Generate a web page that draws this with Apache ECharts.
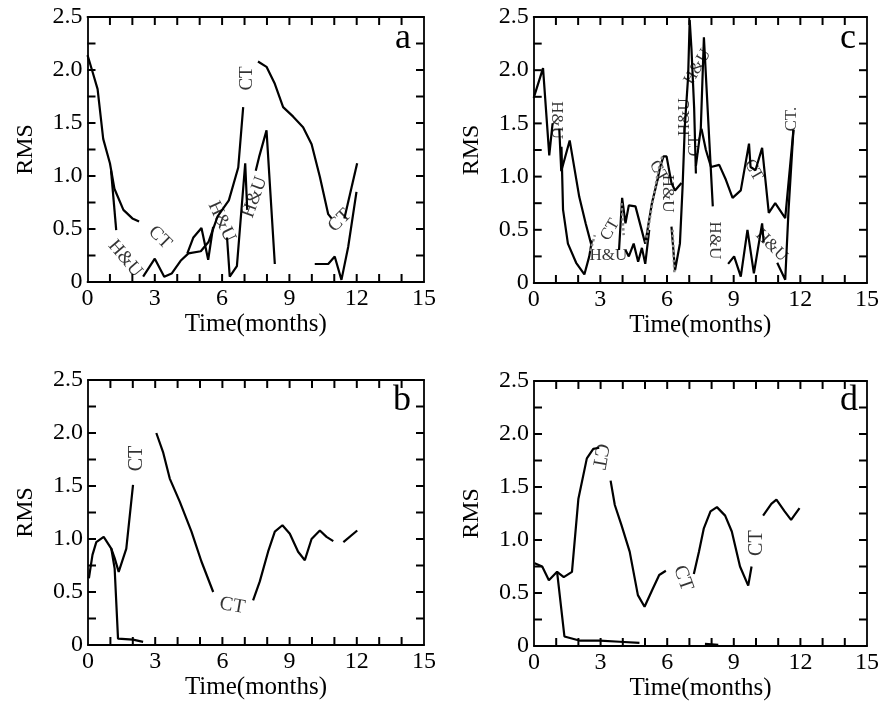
<!DOCTYPE html>
<html><head><meta charset="utf-8">
<script src="https://cdn.jsdelivr.net/npm/echarts@6/dist/echarts.min.js"></script>
<style>html,body{margin:0;padding:0;background:#fff}#c{width:882px;height:704px}</style>
</head><body><div id="c"></div>
<script>
// ---------- data ----------
const xTickLabels = [0, 3, 6, 9, 12, 15];
const yTickLabels = ['0', '0.5', '1.0', '1.5', '2.0', '2.5'];
const xTickMarks = [1,2,3,4,5,6,7,8,9,10,11,12,13,14];
const yTickMarks = [0.25,0.5,0.75,1.0,1.25,1.5,1.75,2.0,2.25];
const panelLetters = ['a', 'c', 'b', 'd'];

// panel a
const a_ct1 = [[0,2.14],[0.2,2.0],[0.45,1.82],[0.7,1.35],[1.0,1.12],[1.2,0.88],[1.6,0.68],[2.0,0.6],[2.3,0.57]];
const a_hu1 = [[1.05,1.05],[1.28,0.49]];
const a_ct2 = [[2.48,0.05],[3.0,0.22],[3.42,0.05],[3.75,0.08],[4.15,0.2],[4.5,0.27],[5.05,0.29],[5.4,0.38],[5.8,0.62],[6.3,0.77],[6.72,1.08],[6.94,1.65]];
const a_hu2 = [[4.45,0.27],[4.72,0.42],[5.08,0.51],[5.38,0.21],[5.6,0.52]];
const a_hu3 = [[6.22,0.42],[6.34,0.05],[6.66,0.15],[7.03,1.12],[7.12,0.68]];
const a_hu4 = [[7.5,1.05],[7.65,1.18],[7.98,1.43],[8.35,0.17]];
const a_ct3 = [[7.6,2.08],[7.98,2.03],[8.35,1.87],[8.72,1.65],[9.17,1.56],[9.61,1.46],[9.99,1.3],[10.36,0.99],[10.73,0.64],[10.88,0.6]];
const a_ct4 = [[11.45,0.6],[12.02,1.12]];
const a_hu5 = [[10.13,0.17],[10.73,0.17],[11.02,0.24],[11.32,0.02],[11.62,0.33],[11.99,0.85]];

// panel c
const c_1 = [[0,1.74],[0.42,2.02],[0.7,1.2],[0.85,1.5]];
const c_2 = [[1.15,1.45],[1.24,1.05],[1.62,1.34],[2.05,0.81],[2.34,0.56],[2.58,0.37]];
const c_3 = [[1.25,1.28],[1.32,0.69],[1.54,0.37],[1.91,0.19],[2.28,0.08],[2.5,0.25],[2.62,0.4]];
const c_4 = [[3.84,0.31],[3.98,0.8],[4.13,0.56],[4.28,0.73],[4.58,0.72],[5.02,0.37],[5.32,0.75],[5.54,0.94],[5.69,1.09],[5.84,1.19],[5.98,1.19],[6.2,0.94],[6.36,0.87],[6.65,0.94]];
const c_5 = [[4.13,0.31],[4.28,0.25],[4.5,0.37],[4.7,0.2],[4.87,0.33],[5.02,0.18],[5.2,0.5]];
const c_6 = [[6.2,0.53],[6.36,0.12],[6.58,0.37],[6.7,0.9],[6.8,1.47],[6.95,1.94],[7.02,2.47],[7.1,2.2],[7.22,1.65],[7.3,1.03]];
const c_7 = [[7.3,1.1],[7.52,1.45],[7.66,2.31],[7.91,1.31],[8.06,0.72]];
const c_8 = [[7.55,1.45],[7.75,1.25],[7.98,1.09],[8.35,1.11],[8.65,0.97],[8.95,0.8],[9.32,0.87],[9.69,1.31],[9.76,1.09],[9.98,1.06],[10.28,1.27],[10.58,0.66],[10.87,0.75],[11.32,0.61],[11.69,1.44]];
const c_9 = [[8.75,0.18],[9.02,0.25],[9.32,0.06],[9.62,0.5],[9.91,0.09],[10.28,0.56],[10.35,0.38]];
const c_10 = [[10.96,0.19],[11.32,0.03],[11.47,0.69],[11.69,1.44]];
const c_g1 = [[5.05,0.38],[5.3,0.7],[5.6,1.05],[5.8,1.2]];
const c_g2 = [[2.55,0.3],[2.75,0.45]];
const c_g3 = [[6.25,0.5],[6.33,0.1]];
const c_g4 = [[3.95,0.75],[4.05,0.45]];

// panel b
const b_1 = [[0.04,0.63],[0.2,0.85],[0.37,0.97],[0.7,1.02],[1.04,0.91],[1.19,0.82],[1.37,0.69],[1.71,0.91],[2.01,1.51]];
const b_2 = [[1.04,0.91],[1.19,0.72],[1.34,0.06],[2.01,0.05],[2.46,0.03]];
const b_3 = [[3.05,2.0],[3.35,1.82],[3.65,1.57],[4.1,1.35],[4.62,1.07],[5.06,0.79],[5.59,0.5]];
const b_4 = [[7.37,0.42],[7.67,0.6],[8.04,0.88],[8.34,1.07],[8.68,1.13],[9.01,1.05],[9.38,0.88],[9.68,0.8],[9.98,1.0],[10.35,1.08],[10.65,1.02],[10.95,0.98]];
const b_5 = [[11.4,0.97],[12.02,1.08]];

// panel d
const d_1 = [[0.03,0.78],[0.37,0.75],[0.67,0.62],[1.04,0.7],[1.34,0.65],[1.71,0.7],[2.0,1.39],[2.38,1.77],[2.67,1.86],[2.94,1.87]];
const d_2 = [[1.04,0.7],[1.37,0.09],[2.08,0.05],[2.97,0.05],[3.86,0.04],[4.75,0.03]];
const d_3 = [[3.45,1.56],[3.64,1.33],[3.94,1.14],[4.31,0.89],[4.68,0.48],[4.98,0.37],[5.35,0.54],[5.64,0.67],[5.94,0.71]];
const d_4 = [[7.2,0.68],[7.43,0.89],[7.65,1.11],[7.95,1.27],[8.24,1.31],[8.61,1.23],[8.91,1.08],[9.28,0.75],[9.65,0.57],[9.8,0.75]];
const d_5 = [[10.32,1.23],[10.69,1.34],[10.92,1.38],[11.29,1.27],[11.58,1.19],[11.96,1.3]];
const d_6 = [[7.7,0.02],[8.3,0.01]];

// annotations: [x, y, text]
const a_notes = [[1.68,0.22,'H&U'],[3.23,0.42,'CT'],[5.98,0.57,'H&U'],[7.46,0.8,'H&U'],[7.12,1.92,'CT'],[11.25,0.58,'CT']];
const c_notes = [[1.02,1.53,'H&U'],[3.36,0.26,'H&U'],[3.44,0.5,'CT'],[6.0,0.84,'H&U'],[5.62,1.05,'CT'],[6.77,1.56,'H&U'],[7.25,1.29,'CT'],[7.37,2.03,'H&U'],[8.15,0.4,'H&U'],[9.89,1.06,'CT'],[10.7,0.35,'H&U'],[11.59,1.54,'CT.']];
const b_notes = [[2.19,1.76,'CT'],[6.44,0.37,'CT']];
const d_notes = [[2.97,1.79,'CT'],[6.71,0.64,'CT'],[10.02,0.97,'CT']];
</script>
<script>
// ---------- layout / style ----------
const FONT = 'Liberation Serif';
const X_MIN = 0, X_MAX = 15, Y_MIN = 0, Y_MAX = 2.5;
const TICK_LEN = 8;
const panels = [
  {left:87.5, top:17, width:336.5, height:265, letterX:395, letterY:21},
  {left:533.7, top:17, width:337.3, height:266, letterX:840, letterY:21},
  {left:88, top:380, width:336, height:265, letterX:393, letterY:383},
  {left:534, top:381, width:337, height:265, letterX:840, letterY:383}
];
const lineSets = [
  [a_ct1,a_hu1,a_ct2,a_hu2,a_hu3,a_hu4,a_ct3,a_ct4,a_hu5],
  [c_1,c_2,c_3,c_4,c_5,c_6,c_7,c_8,c_9,c_10],
  [b_1,b_2,b_3,b_4,b_5],
  [d_1,d_2,d_3,d_4,d_5,d_6]
];
const greySets = [[],[c_g1,c_g2,c_g3,c_g4],[],[]];
const noteSets = [a_notes, c_notes, b_notes, d_notes];
const noteRot = [
  [-50,-45,-65,70,90,45],
  [-90,0,60,-90,-60,90,90,60,-90,-60,-45,90],
  [90,-10],
  [-100,-70,90]
];
const noteSize = [19, 17, 20, 20];

// tick mark items: [x, y, direction]  0=up from bottom, 1=down from top, 2=right from left, 3=left from right
const tickItems = [];
xTickMarks.forEach(v => { tickItems.push([v, Y_MIN, 0]); tickItems.push([v, Y_MAX, 1]); });
yTickMarks.forEach(v => { tickItems.push([X_MIN, v, 2]); tickItems.push([X_MAX, v, 3]); });
const dirs = [[0,-1],[0,1],[1,0],[-1,0]];

const mkLine = () => ({show:true, onZero:false, lineStyle:{color:'#000', width:1.8}});

const grid = [], xAxis = [], yAxis = [], series = [], title = [];
panels.forEach((p, i) => {
  grid.push({left:p.left, top:p.top, width:p.width, height:p.height});
  ['bottom','top'].forEach((pos, j) => {
    const ax = {type:'value', gridIndex:i, position:pos, min:X_MIN, max:X_MAX, interval:3,
      axisLine:mkLine(), axisTick:{show:false}, minorTick:{show:false},
      splitLine:{show:false}, axisLabel:{show:false}};
    if (j === 0) {
      ax.axisLabel = {show:true, color:'#000', fontFamily:FONT, fontSize:24, margin:5,
        formatter: v => xTickLabels.includes(v) ? String(v) : ''};
      ax.name = 'Time(months)'; ax.nameLocation = 'middle'; ax.nameGap = 29;
      ax.nameTextStyle = {color:'#000', fontFamily:FONT, fontSize:25};
    }
    xAxis.push(ax);
  });
  ['left','right'].forEach((pos, j) => {
    const ax = {type:'value', gridIndex:i, position:pos, min:Y_MIN, max:Y_MAX, interval:0.5,
      axisLine:mkLine(), axisTick:{show:false}, minorTick:{show:false},
      splitLine:{show:false}, axisLabel:{show:false}};
    if (j === 0) {
      ax.axisLabel = {show:true, color:'#000', fontFamily:FONT, fontSize:24, margin:5,
        formatter: v => yTickLabels[Math.round(v/0.5)]};
      ax.name = 'RMS'; ax.nameLocation = 'middle'; ax.nameGap = 50; ax.nameRotate = 90;
      ax.nameTextStyle = {color:'#000', fontFamily:FONT, fontSize:24};
    }
    yAxis.push(ax);
  });
  // inward tick marks on all four sides, placed through the axis scales
  series.push({type:'custom', xAxisIndex:2*i, yAxisIndex:2*i, data:tickItems, clip:false, silent:true,
    animation:false, z:5,
    renderItem: (params, api) => {
      const pt = api.coord([api.value(0), api.value(1)]);
      const d = dirs[api.value(2)];
      return {type:'line', shape:{x1:pt[0], y1:pt[1], x2:pt[0]+d[0]*TICK_LEN, y2:pt[1]+d[1]*TICK_LEN},
        style:{stroke:'#000', lineWidth:2}};
    }});
  lineSets[i].forEach(d => series.push({type:'line', xAxisIndex:2*i, yAxisIndex:2*i, data:d,
    showSymbol:false, symbol:'none', lineStyle:{color:'#000', width:2.2}, silent:true, animation:false}));
  greySets[i].forEach(d => series.push({type:'line', xAxisIndex:2*i, yAxisIndex:2*i, data:d,
    showSymbol:false, symbol:'none', lineStyle:{color:'#888', width:2.5, type:'dotted'}, silent:true, animation:false}));
  series.push({type:'scatter', xAxisIndex:2*i, yAxisIndex:2*i, symbolSize:0, animation:false, silent:true,
    data: noteSets[i].map((n, k) => ({value:[n[0], n[1]], name:n[2],
      label:{rotate: noteRot[i][k]}})),
    label:{show:true, position:'inside', formatter: q => q.name, color:'#000', fontFamily:FONT, fontSize:noteSize[i]}});
  series.push({type:'line', xAxisIndex:2*i+1, yAxisIndex:2*i+1, data:[], silent:true});
  title.push({text:panelLetters[i], left:p.letterX, top:p.letterY, padding:0,
    textStyle:{color:'#000', fontFamily:FONT, fontSize:36, fontWeight:'normal'}});
});
const chart = echarts.init(document.getElementById('c'), null, {renderer:'canvas'});
chart.setOption({backgroundColor:'#fff', animation:false, title, grid, xAxis, yAxis, series});
</script>
</body></html>
